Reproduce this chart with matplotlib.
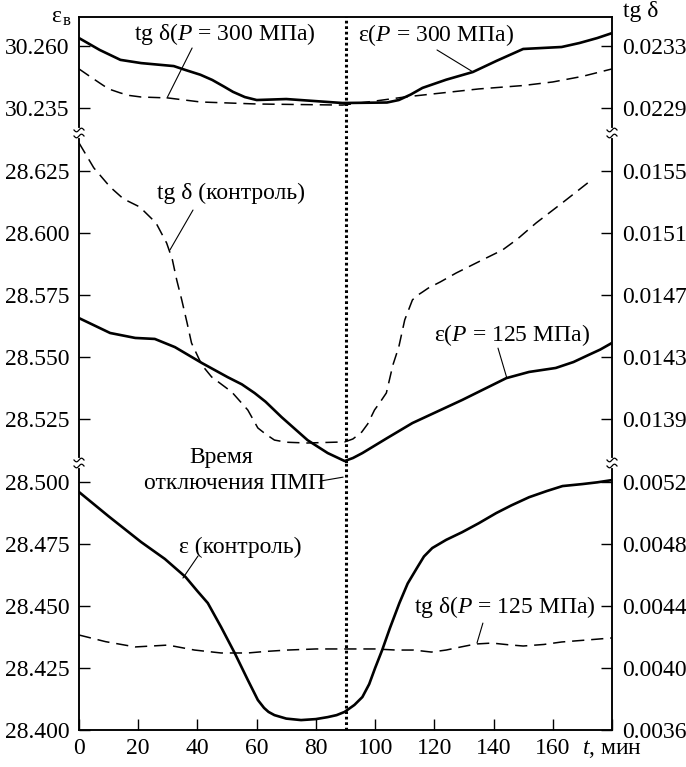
import numpy as np
import matplotlib
matplotlib.use('Agg')
import matplotlib.pyplot as plt
from matplotlib.lines import Line2D

plt.rcParams['font.family'] = ['Liberation Serif', 'DejaVu Serif']
plt.rcParams['mathtext.fontset'] = 'custom'
plt.rcParams['mathtext.rm'] = 'Liberation Serif'
plt.rcParams['mathtext.it'] = 'Liberation Serif:italic'
plt.rcParams['font.size'] = 17

# --- data ---

# top panel: P = 300 MPa
t_eps300 = [0, 7, 14, 21, 32, 36, 41, 45, 49, 52, 56, 60, 70, 89, 104, 108, 112, 116, 124,
            133, 141, 150, 163, 169, 175, 180]
eps300 = [30.2632, 30.2584, 30.2544, 30.2531, 30.2519, 30.2503, 30.2484, 30.2463, 30.2436,
          30.2415, 30.2394, 30.2382, 30.2386, 30.2370, 30.2372, 30.2382, 30.2404, 30.2431,
          30.2464, 30.2495, 30.2540, 30.2588, 30.2596, 30.2612, 30.2632, 30.2652]
t_tg300 = [0, 3.5, 7, 10, 14, 17, 21, 30, 41, 60, 89, 100, 110, 135, 150, 160, 170, 180]
tg300 = [0.023152, 0.023106, 0.023061, 0.023023, 0.022997, 0.022981, 0.022971, 0.022965,
         0.022939, 0.022926, 0.022919, 0.022945, 0.022971, 0.023023, 0.023045, 0.023068,
         0.023104, 0.023152]

# middle panel: eps at P = 125 MPa, tg delta control
t_eps125 = [0, 10.5, 19, 25.6, 32.4, 41.5, 50.2, 55, 59.3, 63, 68.4, 77.2, 84, 89.7, 92.5,
            95.7, 104, 112.6, 129.4, 144.3, 152, 161, 167, 172, 176, 180]
eps125 = [28.5657, 28.5597, 28.5577, 28.5573, 28.5540, 28.5476, 28.5419, 28.5390, 28.5355,
          28.5320, 28.5258, 28.5165, 28.5113, 28.5081, 28.5093, 28.5113, 28.5173, 28.5234,
          28.5327, 28.5415, 28.5440, 28.5456, 28.5480, 28.5508, 28.5530, 28.5557]
t_tgk = [0, 5, 10.5, 15, 20.5, 26, 29.6, 31.5, 33, 34.7, 36.5, 38, 41.5, 44.8, 51.6, 57, 60.4,
         63, 66, 70, 77, 89.7, 92.5, 95.5, 97.5, 99.8, 101.5, 103.8, 106, 108, 110, 112.6,
         114, 116, 118, 122, 127.4, 136.2, 143, 148, 154.4, 163.2, 172.2]
tgk = [0.015681, 0.015520, 0.015397, 0.015320, 0.015268, 0.015165, 0.015035, 0.014930,
       0.014797, 0.014668, 0.014520, 0.014390, 0.014248, 0.014171, 0.014074, 0.013958,
       0.013842, 0.013803, 0.013764, 0.013750, 0.013745, 0.013752, 0.013771, 0.013816,
       0.013868, 0.013958, 0.014003, 0.014068, 0.014248, 0.014365, 0.014539, 0.014668,
       0.014694, 0.014719, 0.014745, 0.014784, 0.014842, 0.014926, 0.014990, 0.015060,
       0.015165, 0.015294, 0.015429]

# bottom panel: eps control, tg delta at P = 125 MPa
t_epsk = [0, 10, 21, 29, 36, 40, 43.5, 48, 52.6, 57, 60.4, 62.5, 64, 66, 70, 75, 80, 84,
          87, 89.7, 93, 95.7, 98, 100, 102.4, 105, 108.2, 111, 114.3, 116.5, 119.3, 124,
          129.4, 135, 140.9, 146, 152, 158, 163.3, 170, 175, 180]
epsk = [28.4960, 28.4862, 28.4758, 28.4690, 28.4617, 28.4560, 28.4512, 28.4415, 28.4310,
        28.4202, 28.4121, 28.4089, 28.4073, 28.4060, 28.4046, 28.4040, 28.4044, 28.4052,
        28.4060, 28.4073, 28.4101, 28.4133, 28.4185, 28.4250, 28.4323, 28.4411, 28.4512,
        28.4591, 28.4657, 28.4700, 28.4734, 28.4767, 28.4798, 28.4834, 28.4875, 28.4906,
        28.4939, 28.4964, 28.4984, 28.4992, 28.4999, 28.5008]
t_tg125 = [0, 9, 19, 30, 39, 48, 57, 63, 70.5, 80, 89, 100, 107, 113, 119, 124, 129, 134,
           139.5, 145, 150, 157, 163, 171, 180]
tg125 = [0.004213, 0.004170, 0.004136, 0.004148, 0.004116, 0.004097, 0.004097, 0.004107,
         0.004116, 0.004123, 0.004123, 0.004123, 0.004116, 0.004116, 0.004103, 0.004116,
         0.004136, 0.004155, 0.004161, 0.004150, 0.004142, 0.004152, 0.004168, 0.004180,
         0.004194]

t_off = 90
x_ticks = [0, 20, 40, 60, 80, 100, 120, 140, 160, 180]
x_ticklabels = ['0', '20', '40', '60', '80', '100', '120', '140', '160', '$t$, мин']

left_ticks = [[30.260, 30.235],
              [28.625, 28.600, 28.575, 28.550, 28.525],
              [28.500, 28.475, 28.450, 28.425, 28.400]]
right_ticks = [[0.0233, 0.0229],
               [0.0155, 0.0151, 0.0147, 0.0143, 0.0139],
               [0.0052, 0.0048, 0.0044, 0.0040, 0.0036]]
left_lims = [(30.2249, 30.2719), (28.5073, 28.6403), (28.400, 28.5077)]
right_lims = [(0.022739, 0.023490), (0.013616, 0.015745), (0.0036, 0.005323)]

# --- figure ---
W, H = 686, 767
fig = plt.figure(figsize=(W / 100, H / 100), dpi=100)
gs = fig.add_gridspec(3, 1, height_ratios=[116.5, 330, 267], hspace=0,
                      left=79 / W, right=612 / W, bottom=(H - 730) / H, top=(H - 16.5) / H)

solid = dict(color='black', lw=1.9, solid_joinstyle='round')
dashed = dict(color='black', lw=1.1, dashes=(8, 4.5))

axes_l = []
axes_r = []
for i in range(3):
    ax = fig.add_subplot(gs[i])
    axr = ax.twinx()
    ax.set_xlim(0, 180)
    ax.set_ylim(*left_lims[i])
    axr.set_ylim(*right_lims[i])
    ax.set_yticks(left_ticks[i])
    ax.set_yticklabels([f'{v:.3f}' for v in left_ticks[i]])
    axr.set_yticks(right_ticks[i])
    axr.set_yticklabels([f'{v:.4f}' for v in right_ticks[i]])
    ax.tick_params(axis='y', direction='in', length=8, width=1.0, pad=7)
    axr.tick_params(axis='y', direction='in', length=8, width=1.0, pad=7)
    for a in (ax, axr):
        for s in a.spines.values():
            s.set_linewidth(1.1)
        if i > 0:
            a.spines['top'].set_visible(False)
        if i < 2:
            a.spines['bottom'].set_visible(False)
    if i < 2:
        ax.tick_params(axis='x', bottom=False, labelbottom=False)
    else:
        ax.set_xticks(x_ticks)
        ax.set_xticklabels(x_ticklabels)
        ax.tick_params(axis='x', direction='in', length=8, width=1.0, pad=6)
    ax.axvline(t_off, color='black', lw=2.2, linestyle=(0, (0.9, 0.9)))
    axes_l.append(ax)
    axes_r.append(axr)

# curves
axes_l[0].plot(t_eps300, eps300, **solid)
axes_r[0].plot(t_tg300, tg300, **dashed)
axes_l[1].plot(t_eps125, eps125, **solid)
axes_r[1].plot(t_tgk, tgk, **dashed)
axes_l[2].plot(t_epsk, epsk, **solid)
axes_r[2].plot(t_tg125, tg125, **dashed)


# leader lines
def leader(ax, start, end):
    ax.annotate('', xy=end, xytext=start, annotation_clip=False,
                arrowprops=dict(arrowstyle='-', lw=0.8, color='black', shrinkA=0, shrinkB=0))


leader(axes_r[0], (38.2, 0.023287), (29.7, 0.022964))
leader(axes_l[0], (120.9, 30.2584), (133.1, 30.2495))
leader(axes_r[1], (38.5, 0.015248), (30.7, 0.014990))
leader(axes_l[1], (141.5, 28.5536), (144.5, 28.5415))
leader(axes_l[2], (81.4, 28.5004), (89.2, 28.5020))
leader(axes_l[2], (40.2, 28.4702), (35.1, 28.4613))
leader(axes_r[2], (136.4, 0.004290), (134.4, 0.004161))


# labels in figure pixels
def ftext(px, py, s, **kw):
    fig.text(px / W, 1 - py / H, s, ha='center', va='center', **kw)


ftext(225, 34, 'tg δ($P$ = 300 МПа)')
ftext(436, 35, 'ε($P$ = 300 МПа)')
ftext(231, 193, 'tg δ (контроль)')
ftext(512, 335, 'ε($P$ = 125 МПа)')
ftext(221, 457, 'Время')
ftext(235, 483, 'отключения ПМП')
ftext(240, 547, 'ε (контроль)')
ftext(505, 607, 'tg δ($P$ = 125 МПа)')
ftext(56, 16, 'ε')
ftext(67, 21, 'в', fontsize=12)
ftext(641, 11, 'tg δ')


# axis break marks on both spines
def break_mark(px, py):
    tt = np.linspace(-1, 1, 30)
    fig.add_artist(Line2D([px / W, px / W], [1 - (py - 3) / H, 1 - (py + 3) / H],
                          color='white', lw=3, transform=fig.transFigure))
    for off in (-3, 3):
        xs = (px + 5 * tt) / W
        ys = 1 - (py + off - 1.8 * np.sin(np.pi * tt)) / H
        fig.add_artist(Line2D(xs, ys, color='black', lw=0.9, transform=fig.transFigure))


for i in range(2):
    pos = axes_l[i].get_position()
    yb = (1 - pos.y0) * H
    break_mark(pos.x0 * W, yb)
    break_mark(pos.x1 * W, yb)

fig.savefig('out.png', dpi=100)
